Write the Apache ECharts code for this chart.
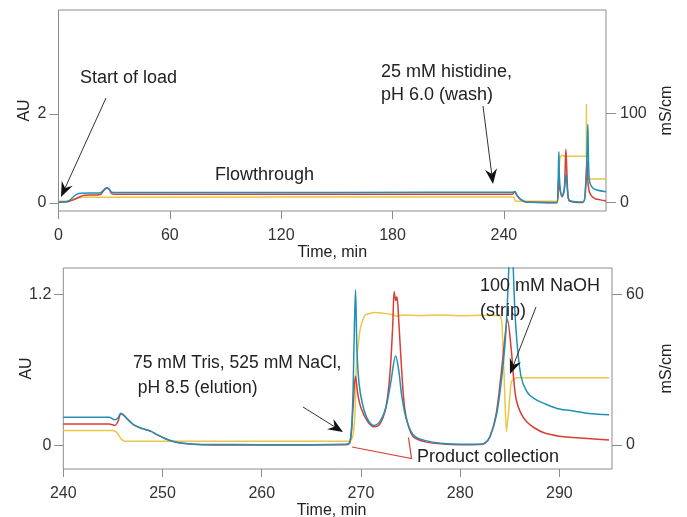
<!DOCTYPE html>
<html><head><meta charset="utf-8">
<script src="https://cdn.jsdelivr.net/npm/echarts@6/dist/echarts.min.js"></script>
<style>html,body{margin:0;padding:0;background:#fff}#c{width:687px;height:517px}</style>
</head><body><div id="c"></div>
<script>
// ---------- Top panel: full run, 0–295 min ----------
const topTimeTicks = [0, 60, 120, 180, 240];
const topAUTicks = [0, 2];
const topCondTicks = [0, 100];

const topBlueT  = [0, 4, 6, 8, 10, 12, 20, 22.5, 24, 25.8, 27.2, 28.5, 30, 100, 200, 244.5, 245.8, 247, 249, 252, 268.5, 269.2, 269.6, 270, 271.3, 272.5, 273.5, 274.3, 275.5, 282.5, 284, 284.8, 285.2, 285.6, 286.3, 288, 290, 295];
const topBlueAU = [0.02, 0.03, 0.06, 0.14, 0.2, 0.22, 0.225, 0.23, 0.28, 0.34, 0.32, 0.25, 0.235, 0.235, 0.24, 0.24, 0.26, 0.18, 0.08, 0.02, 0.01, 0.5, 1.15, 0.5, 0.15, 0.3, 0.65, 0.25, 0.05, 0.02, 0.3, 1.2, 1.77, 0.9, 0.45, 0.33, 0.29, 0.25];

const topRedT  = [0, 5, 8, 11, 14, 20, 22.5, 24, 25.8, 27.2, 28.5, 30, 244.5, 245.8, 247, 249, 252, 268.5, 269.3, 269.6, 270, 271.3, 272.5, 273.4, 274, 274.6, 275.5, 282.5, 284, 284.8, 285.4, 286.5, 289, 292, 295];
const topRedAU = [0.02, 0.03, 0.07, 0.13, 0.175, 0.18, 0.19, 0.26, 0.33, 0.31, 0.22, 0.195, 0.195, 0.25, 0.17, 0.08, 0.02, 0.005, 0.35, 0.5, 0.35, 0.14, 0.3, 1.21, 0.6, 0.15, 0.04, 0.01, 0.4, 0.95, 0.4, 0.2, 0.1, 0.07, 0.05];

const topCondT  = [0, 5, 9, 13, 244.8, 245.5, 246.2, 269, 269.5, 270.2, 271.3, 273, 284.3, 284.45, 284.6, 285.2, 295];
const topCondMS = [1.5, 2, 4.5, 6, 6.3, 5, 1.7, 1.7, 25, 50, 53, 52, 52, 110, 28, 26.6, 26.6];

// ---------- Bottom panel: 240–295 min ----------
const lowTimeTicks = [240, 250, 260, 270, 280, 290];
const lowAUTicks = [0, 1.2];
const lowCondTicks = [0, 60];

const lowBlueT  = [240, 244.6, 245.2, 245.5, 245.8, 246.1, 246.6, 247.2, 248, 248.8, 249.5, 250.3, 251, 252, 254, 260, 268.5, 268.9, 269.15, 269.3, 269.45, 269.6, 269.8, 270.1, 270.6, 271.3, 271.9, 272.5, 273, 273.5, 273.8, 274.1, 274.5, 275, 275.5, 276.5, 278, 280, 282, 282.5, 283, 283.65, 284.2, 284.6, 284.95, 285.15, 285.35, 285.6, 286.1, 286.7, 287.5, 288.6, 290, 291.4, 293, 295];
const lowBlueAU = [0.225, 0.225, 0.205, 0.22, 0.257, 0.24, 0.2, 0.16, 0.135, 0.115, 0.085, 0.055, 0.035, 0.02, 0.01, 0.008, 0.012, 0.03, 0.3, 0.8, 1.234, 0.75, 0.5, 0.35, 0.22, 0.16, 0.19, 0.3, 0.5, 0.71, 0.6, 0.4, 0.23, 0.12, 0.07, 0.04, 0.02, 0.012, 0.012, 0.02, 0.07, 0.24, 0.55, 0.9, 1.5, 1.9, 1.4, 0.95, 0.56, 0.43, 0.37, 0.33, 0.29, 0.275, 0.255, 0.245];

const lowRedT  = [240, 244.6, 245.2, 245.5, 245.8, 246.1, 246.6, 247.2, 248, 248.8, 249.5, 250.3, 251, 252, 254, 260, 268.5, 268.9, 269.2, 269.45, 269.7, 270, 270.6, 271.3, 271.9, 272.5, 272.9, 273.2, 273.35, 273.5, 273.62, 273.8, 274.1, 274.4, 274.8, 275.3, 276.5, 278, 280, 282, 282.5, 283, 283.6, 284.1, 284.5, 284.75, 285.15, 285.4, 285.66, 286.1, 286.7, 287.5, 288.5, 290, 291.4, 295];
const lowRedAU = [0.172, 0.172, 0.16, 0.19, 0.25, 0.24, 0.2, 0.16, 0.135, 0.115, 0.085, 0.055, 0.035, 0.02, 0.008, 0.005, 0.008, 0.03, 0.3, 0.55, 0.4, 0.3, 0.2, 0.15, 0.17, 0.3, 0.55, 0.95, 1.22, 1.15, 1.18, 1.0, 0.6, 0.3, 0.15, 0.07, 0.03, 0.015, 0.008, 0.01, 0.02, 0.07, 0.24, 0.55, 0.85, 1.0, 0.76, 0.52, 0.36, 0.26, 0.19, 0.14, 0.1, 0.075, 0.065, 0.045];

const lowCondT  = [240, 245, 245.4, 245.8, 246.2, 268.9, 269.2, 269.4, 269.55, 269.9, 270.4, 271.4, 273.1, 273.6, 274.2, 276, 278, 280, 282, 284.0, 284.2, 284.45, 284.65, 284.9, 285.15, 285.66, 286.5, 295];
const lowCondMS = [5.8, 5.8, 5.0, 2.5, 1.5, 1.5, 4, 12.6, 32.5, 45.8, 51.7, 52.8, 52, 51.3, 51.8, 51.6, 51.8, 51.5, 51.7, 51.5, 49, 25, 5.3, 14, 25.2, 26.8, 26.8, 26.8];

// ---------- styling ----------
const BLUE = '#2290b6', RED = '#d63f32', YELLOW = '#e8c846';
const BORDER = '#8c8c8c', TXT = '#222';
const FONT = '"Liberation Sans", Arial, Helvetica, sans-serif';

const zip = (t, v) => t.map((x, i) => [x, v[i]]);

function xAxis(grid, min, max, ticks) {
  return {
    type: 'value', gridIndex: grid, min, max,
    name: 'Time, min', nameLocation: 'middle', nameGap: 34, nameMoveOverlap: false,
    nameTextStyle: { fontFamily: FONT, fontSize: 16, color: TXT, padding: grid === 1 ? [0, 12, 0, 0] : 0 },
    axisLine: { show: false, onZero: false },
    axisTick: { show: true, inside: false, length: 8, lineStyle: { color: BORDER }, customValues: ticks },
    axisLabel: { fontFamily: FONT, fontSize: 16, color: '#333', margin: 17, customValues: ticks },
    splitLine: { show: false }
  };
}
function yAxis(grid, pos, min, max, ticks, name, gap) {
  return {
    type: 'value', gridIndex: grid, position: pos, min, max,
    name, nameLocation: 'middle', nameGap: gap, nameRotate: 90, nameMoveOverlap: false,
    nameTextStyle: { fontFamily: FONT, fontSize: 16, color: TXT },
    axisLine: { show: false, onZero: false },
    axisTick: { show: true, inside: false, length: pos === 'left' ? 9 : 10, lineStyle: { color: BORDER }, customValues: ticks },
    axisLabel: { fontFamily: FONT, fontSize: 16, color: '#333', margin: pos === 'left' ? 12 : 14, customValues: ticks },
    splitLine: { show: false }
  };
}
function line(xi, yi, data, color, z, smooth) {
  return {
    type: 'line', xAxisIndex: xi, yAxisIndex: yi, data, showSymbol: false, symbol: 'none',
    smooth, z,
    lineStyle: { color, width: 1.5 }, animation: false
  };
}

function text(t, x, y, size) {
  return { type: 'text', z: 100, style: { text: t, x, y, fill: TXT, font: (size || 18) + 'px ' + FONT, verticalAlign: 'middle', align: 'left' } };
}
function arrow(x0, y0, x1, y1) {
  const dx = x1 - x0, dy = y1 - y0, len = Math.hypot(dx, dy);
  const ux = dx / len, uy = dy / len, nx = -uy, ny = ux;
  const L = 15, W = 6, N = 10;
  return [
    { type: 'line', z: 100, shape: { x1: x0, y1: y0, x2: x1 - ux * N, y2: y1 - uy * N }, style: { stroke: '#333', lineWidth: 1 } },
    { type: 'polygon', z: 101, shape: { points: [[x1, y1], [x1 - ux * L + nx * W, y1 - uy * L + ny * W], [x1 - ux * N, y1 - uy * N], [x1 - ux * L - nx * W, y1 - uy * L - ny * W]] }, style: { fill: '#111' } }
  ];
}

const chart = echarts.init(document.getElementById('c'), null, { renderer: 'canvas' });
chart.setOption({
  animation: false,
  backgroundColor: '#fff',
  grid: [
    { left: 58.5, right: 81, top: 10, height: 201, show: true, borderColor: BORDER, borderWidth: 1, outerBoundsMode: 'none', containLabel: false },
    { left: 63.3, right: 75, top: 268, height: 201, show: true, borderColor: BORDER, borderWidth: 1, outerBoundsMode: 'none', containLabel: false }
  ],
  xAxis: [xAxis(0, 0, 295, topTimeTicks), xAxis(1, 240, 295.3, lowTimeTicks)],
  yAxis: [
    yAxis(0, 'left', -0.18, 4.337, topAUTicks, 'AU', 26),
    yAxis(0, 'right', -9.3, 215.5, topCondTicks, 'mS/cm', 53),
    yAxis(1, 'left', -0.185, 1.408, lowAUTicks, 'AU', 29),
    yAxis(1, 'right', -9.55, 70.5, lowCondTicks, 'mS/cm', 47)
  ],
  series: [
    line(0, 1, zip(topCondT, topCondMS), YELLOW, 2, 0.15),
    line(0, 0, zip(topRedT, topRedAU), RED, 3, 0.35),
    line(0, 0, zip(topBlueT, topBlueAU), BLUE, 4, 0.35),
    line(1, 3, zip(lowCondT, lowCondMS), YELLOW, 2, 0.15),
    line(1, 2, zip(lowRedT, lowRedAU), RED, 3, 0.35),
    line(1, 2, zip(lowBlueT, lowBlueAU), BLUE, 4, 0.35)
  ],
  graphic: [
    text('Start of load', 80, 78),
    text('Flowthrough', 215, 175),
    text('25 mM histidine,', 381, 72),
    text('pH 6.0 (wash)', 381, 95),
    text('75 mM Tris, 525 mM NaCl,', 133, 363, 17.5),
    text(' pH 8.5 (elution)', 133, 388, 17.5),
    text('100 mM NaOH', 480, 286),
    text('(strip)', 480, 311),
    text('Product collection', 417, 457),
    ...arrow(106, 98, 61, 197),
    ...arrow(483, 106, 493, 184),
    ...arrow(303, 407, 343, 432),
    ...arrow(536, 307, 510, 374),
    { type: 'polyline', z: 100, shape: { points: [[352, 447], [411.5, 458.5], [408.5, 437.5]] }, style: { stroke: RED, lineWidth: 1.2, fill: null } }
  ]
});
</script></body></html>
